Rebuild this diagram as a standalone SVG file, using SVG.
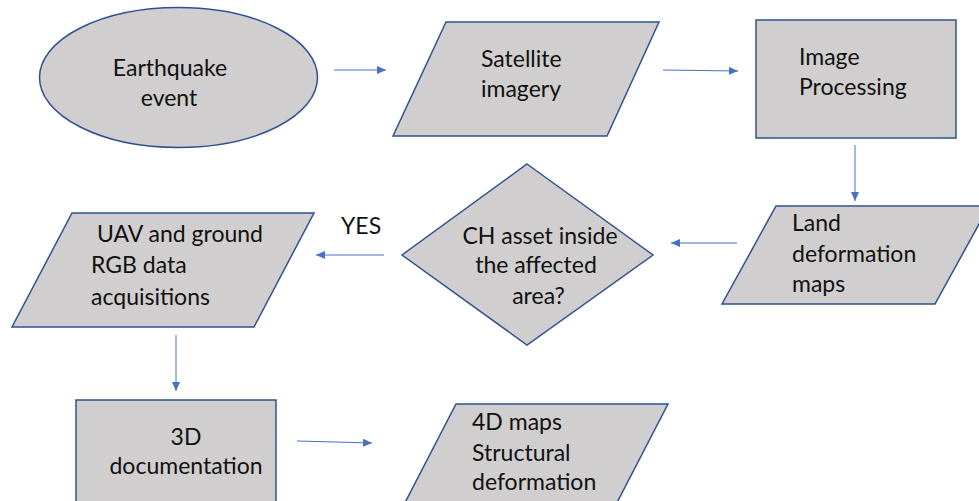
<svg xmlns="http://www.w3.org/2000/svg" width="979" height="501" viewBox="0 0 979 501">
  <style>
    .shape { fill: #d0cece; stroke: #2f528f; stroke-width: 1.5; }
    .label { font-family: Lato, "Noto Sans", "Liberation Sans", sans-serif; font-size: 23px; fill: #111; }
    .mid { text-anchor: middle; }
    .conn { stroke: #4472c4; stroke-width: 1; fill: none; marker-end: url(#head); }
  </style>
  <defs>
    <marker id="head" markerUnits="userSpaceOnUse" markerWidth="10" markerHeight="8" refX="9" refY="4" orient="auto">
      <path d="M0,0 L9,4 L0,8 Z" fill="#4472c4"/>
    </marker>
  </defs>
  <rect width="979" height="501" fill="#ffffff"/>

  <g id="connectors">
    <line class="conn" x1="334" y1="70" x2="386" y2="70"/>
    <line class="conn" x1="663" y1="70" x2="738" y2="71"/>
    <line class="conn" x1="855" y1="145" x2="855" y2="201"/>
    <line class="conn" x1="737" y1="243" x2="671" y2="243"/>
    <line class="conn" x1="384" y1="255" x2="316" y2="255"/>
    <line class="conn" x1="176" y1="335" x2="176" y2="391"/>
    <line class="conn" x1="297" y1="441" x2="372" y2="443"/>
  </g>

  <g id="earthquake">
    <ellipse class="shape" cx="178.5" cy="77.5" rx="139" ry="70"/>
    <text class="label mid" x="170" y="76">Earthquake</text>
    <text class="label mid" x="169" y="106">event</text>
  </g>

  <g id="satellite">
    <polygon class="shape" points="446,22 659,22 607,136 393,136"/>
    <text class="label" x="481" y="67">Satellite</text>
    <text class="label" x="481" y="97">imagery</text>
  </g>

  <g id="processing">
    <rect class="shape" x="756" y="20" width="200" height="118"/>
    <text class="label" x="799" y="65">Image</text>
    <text class="label" x="799" y="95">Processing</text>
  </g>

  <g id="land">
    <polygon class="shape" points="776,206 989,206 935,304 722,304"/>
    <text class="label" x="792" y="231">Land</text>
    <text class="label" x="792" y="262">deformation</text>
    <text class="label" x="792" y="292">maps</text>
  </g>

  <g id="decision">
    <polygon class="shape" points="527,164 653,255 527,345 402,255"/>
    <text class="label mid" x="540" y="244">CH asset inside</text>
    <text class="label mid" x="536" y="273">the affected</text>
    <text class="label mid" x="538.5" y="304">area?</text>
  </g>

  <text id="yes" class="label" x="341" y="234">YES</text>

  <g id="acquisition">
    <polygon class="shape" points="72,213 314,213 254,327 12,327"/>
    <text class="label" x="97" y="242">UAV and ground</text>
    <text class="label" x="91" y="273">RGB data</text>
    <text class="label" x="91" y="305">acquisitions</text>
  </g>

  <g id="documentation">
    <rect class="shape" x="76" y="400" width="200" height="120"/>
    <text class="label mid" x="186" y="445">3D</text>
    <text class="label mid" x="186" y="474">documentation</text>
  </g>

  <g id="maps4d">
    <polygon class="shape" points="456,404 668,404 608,520 396,520"/>
    <text class="label" x="472" y="430">4D maps</text>
    <text class="label" x="472" y="461">Structural</text>
    <text class="label" x="472" y="490">deformation</text>
  </g>
</svg>
